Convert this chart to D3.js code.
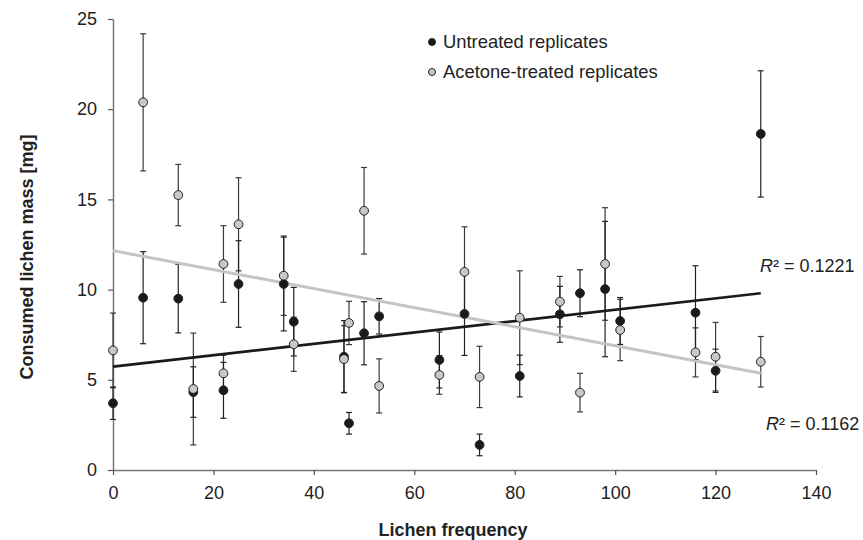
<!DOCTYPE html>
<html><head><meta charset="utf-8">
<script src="https://cdn.jsdelivr.net/npm/d3@7/dist/d3.min.js"></script>
<style>body{margin:0;background:#fff}svg{display:block;font-family:"Liberation Sans",Arial,sans-serif}</style>
</head><body><svg id="c" width="863" height="540"></svg>
<script>
const untreatedX   = [0,6,13,16,22,25,34,36,46,47,50,53,65,70,73,81,89,93,98,101,116,120,129];
const untreatedY   = [3.7,9.55,9.5,4.32,4.42,10.31,10.31,8.22,6.28,2.59,7.58,8.52,6.1,8.65,1.39,5.21,8.63,9.8,10.03,8.26,8.72,5.5,18.63];
const untreatedErr = [0.9,2.55,1.9,1.4,1.55,2.4,2.6,1.9,2.0,0.6,1.75,0.98,1.55,2.3,0.6,1.16,1.55,1.3,3.75,1.3,2.6,1.2,3.5];
const acetoneX   = [0,6,13,16,22,22,25,34,36,46,47,50,53,65,70,73,81,89,93,98,101,116,120,129];
const acetoneY   = [6.63,20.38,15.24,4.49,11.42,5.36,13.62,10.77,6.97,6.15,8.15,14.37,4.66,5.27,10.98,5.16,8.44,9.33,4.29,11.42,7.76,6.52,6.28,6.0];
const acetoneErr = [2.07,3.8,1.7,3.1,2.12,1.0,2.58,2.2,1.5,1.85,1.2,2.4,1.5,1.07,2.5,1.7,2.6,1.4,1.07,3.12,1.7,1.36,1.9,1.4];
const trendUntreated = [5.73, 0.03155];   // intercept, slope
const trendAcetone   = [12.16, -0.0527];
const trendRange = [0, 129];
const xTicks = [0,20,40,60,80,100,120,140];
const yTicks = [0,5,10,15,20,25];
const seriesNames = ["Untreated replicates","Acetone-treated replicates"];
const r2Labels = ["0.1221","0.1162"];

const svg = d3.select("#c");
const x = d3.scaleLinear().domain([0,140]).range([113,816]);
const y = d3.scaleLinear().domain([0,25]).range([470,19]);
const axisColor = "#777";
const FS = 18;

// axes
const gx = svg.append("g").attr("transform","translate(0,470)")
  .call(d3.axisBottom(x).tickValues(xTicks).tickSize(5).tickSizeOuter(0).tickPadding(11));
const gy = svg.append("g").attr("transform","translate(113,0)")
  .call(d3.axisLeft(y).tickValues(yTicks).tickSize(5).tickSizeOuter(0).tickPadding(11));
[gx,gy].forEach(g=>{
  g.select(".domain").attr("stroke",axisColor).attr("stroke-width",1.5);
  g.selectAll(".tick line").attr("stroke","#555").attr("stroke-width",1.2);
  g.selectAll("text").attr("font-size",FS).attr("fill","#222").attr("font-family","Liberation Sans, Arial, sans-serif");
});

// trendlines
function trend(c,color,w){
  const line = d3.line().x(d=>x(d)).y(d=>y(c[0]+c[1]*d));
  svg.append("path").datum(trendRange).attr("d",line).attr("fill","none").attr("stroke",color).attr("stroke-width",w);
}

function errorBars(xs,ys,es,color){
  const g = svg.append("g").attr("stroke",color).attr("stroke-width",1.2);
  xs.forEach((xv,i)=>{
    const cx = x(xv), t = y(ys[i]+es[i]), b = y(ys[i]-es[i]);
    g.append("line").attr("x1",cx).attr("x2",cx).attr("y1",t).attr("y2",b);
    g.append("line").attr("x1",cx-3).attr("x2",cx+3).attr("y1",t).attr("y2",t);
    g.append("line").attr("x1",cx-3).attr("x2",cx+3).attr("y1",b).attr("y2",b);
  });
}
function points(xs,ys,fill){
  svg.append("g").selectAll("circle").data(xs).join("circle")
    .attr("cx",d=>x(d)).attr("cy",(d,i)=>y(ys[i])).attr("r",4.4)
    .attr("fill",fill).attr("stroke","#222").attr("stroke-width",1);
}

errorBars(acetoneX,acetoneY,acetoneErr,"#3a3a3a");
errorBars(untreatedX,untreatedY,untreatedErr,"#222");
trend(trendUntreated,"#1a1a1a",2.6);
trend(trendAcetone,"#c4c4c4",3);
points(untreatedX,untreatedY,"#1a1a1a");
points(acetoneX,acetoneY,"#c8c8c8");

// legend
const lg = svg.append("g");
[["#1a1a1a",42],["#c8c8c8",72]].forEach(([f,yy],i)=>{
  lg.append("circle").attr("cx",432).attr("cy",yy).attr("r",3.5).attr("fill",f).attr("stroke","#222").attr("stroke-width",1);
  lg.append("text").attr("x",443).attr("y",yy+5.5).attr("font-size",18.4).attr("fill","#222").text(seriesNames[i]);
});

// R² labels
function r2(xx,yy,val){
  const t = svg.append("text").attr("x",xx).attr("y",yy).attr("font-size",FS).attr("fill","#222");
  t.append("tspan").attr("font-style","italic").text("R");
  t.append("tspan").text("² = "+val);
}
r2(760,272,r2Labels[0]);
r2(766,430,r2Labels[1]);

// axis titles
svg.append("text").attr("x",453).attr("y",536).attr("text-anchor","middle")
  .attr("font-size",FS).attr("font-weight","bold").attr("fill","#222").text("Lichen frequency");
svg.append("text").attr("transform","translate(33,257) rotate(-90)").attr("text-anchor","middle")
  .attr("font-size",FS).attr("font-weight","bold").attr("fill","#222").text("Consumed lichen mass [mg]");
</script></body></html>
